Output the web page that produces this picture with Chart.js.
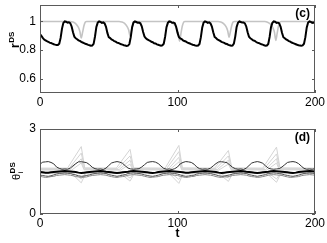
<!doctype html>
<html lang="en">
<head>
<meta charset="utf-8">
<title>r DS / theta DS</title>
<script src="https://cdn.jsdelivr.net/npm/chart.js@4.4.0/dist/chart.umd.min.js"></script>
<style>
  body { margin:0; background:#fff; }
  #wrap { position:relative; width:327px; height:243px; }
  canvas { position:absolute; left:0; }
  #topc { top:0; }
  #botc { top:120px; }
</style>
</head>
<body>
<div id="wrap">
  <canvas id="topc" width="327" height="120"></canvas>
  <canvas id="botc" width="327" height="123"></canvas>
</div>
<script>
// ---- data ----
const tTicks = [0, 100, 200];
const rTicks = [0.6, 0.8, 1];
const thetaTicks = [0, 3];

// panel (c): r^DS sampled every 1 time unit, t = 0..200
const rBlack = [
  0.912,0.9,0.885,0.874,0.868,0.862,0.858,0.852,0.849,0.845,0.841,0.838,0.836,0.835,0.845,0.885,0.95,
  0.99,1.0,0.998,0.992,0.994,0.988,0.965,0.925,0.893,0.882,0.876,0.868,0.864,0.857,0.853,0.849,0.844,0.841,0.836,0.834,0.83,0.832,0.843,0.895,0.962,
  0.992,1.0,0.997,0.99,0.993,0.986,0.962,0.92,0.89,0.884,0.874,0.87,0.862,0.859,0.852,0.85,0.845,0.84,0.838,0.834,0.832,0.829,0.831,0.842,0.89,0.96,
  0.993,1.0,0.996,0.991,0.992,0.987,0.966,0.926,0.894,0.883,0.875,0.869,0.865,0.858,0.855,0.848,0.846,0.84,0.837,0.833,0.831,0.833,0.844,0.893,0.96,
  0.99,1.0,0.998,0.991,0.993,0.988,0.963,0.922,0.891,0.881,0.877,0.868,0.863,0.86,0.853,0.849,0.846,0.841,0.837,0.835,0.831,0.83,0.832,0.843,0.89,0.958,
  0.992,1.0,0.997,0.99,0.994,0.986,0.964,0.924,0.892,0.884,0.874,0.87,0.864,0.857,0.854,0.85,0.844,0.842,0.836,0.834,0.83,0.832,0.845,0.894,0.962,
  0.991,1.0,0.996,0.992,0.993,0.987,0.965,0.925,0.893,0.882,0.876,0.868,0.865,0.858,0.852,0.85,0.845,0.84,0.838,0.833,0.831,0.832,0.843,0.892,0.96,
  0.99,1.0,0.998,0.99,0.992,0.986,0.963,0.921,0.89,0.883,0.875,0.869,0.863,0.859,0.853,0.849,0.845,0.841,0.837,0.834,0.832,0.83,0.833,0.844,0.89,0.958,
  0.992,1.0,0.997,0.99,0.993,0.99
];
const tFine = rBlack.map((v, i) => i);

// panel (c): grey curve, key points
const grayT = [0,22,24,26,28,29,30,31,32,33,34,
  57.5,59.5,61.5,63.5,64.5,65.5,66.5,67.5,68.5,69.5,
  93.5,95.5,97.5,99.5,100.5,101.5,102.5,103.5,104.5,105.5,
  129.5,131.5,133.5,135.5,136.5,137.5,138.5,139.5,140.5,141.5,
  163.5,165.5,167.5,169.5,170.5,171.5,172.5,173.5,174.5,175.5,200];
const grayR = [1,1,0.996,0.984,0.958,0.93,0.885,0.925,0.972,0.996,1,
  1,0.996,0.986,0.962,0.94,0.9,0.935,0.976,0.997,1,
  1,0.995,0.98,0.95,0.92,0.862,0.915,0.968,0.995,1,
  1,0.996,0.985,0.96,0.935,0.89,0.93,0.974,0.997,1,
  1,0.995,0.982,0.953,0.925,0.868,0.918,0.97,0.996,1,1];

// panel (d): theta_i^DS sampled every 2 time units, t = 0..200
const thetaArch = [
  1.76,1.83,1.84,1.85,1.82,1.77,1.66,1.61,1.58,1.59,
  1.58,1.62,1.70,1.78,1.84,1.845,1.83,1.81,1.74,1.65,
  1.60,1.58,1.59,1.57,1.62,1.71,1.80,1.83,1.85,1.83,
  1.79,1.70,1.62,1.59,1.58,1.59,1.60,1.66,1.74,1.82,
  1.84,1.85,1.83,1.78,1.69,1.61,1.58,1.59,1.57,1.60,
  1.66,1.77,1.82,1.85,1.84,1.82,1.76,1.66,1.60,1.58,
  1.59,1.58,1.62,1.70,1.78,1.84,1.845,1.83,1.81,1.73,
  1.65,1.60,1.58,1.59,1.57,1.62,1.71,1.80,1.83,1.85,
  1.83,1.79,1.70,1.62,1.59,1.58,1.59,1.60,1.66,1.74,
  1.82,1.84,1.85,1.83,1.78,1.69,1.61,1.58,1.59,1.58,
  1.60
];
const thetaMean = [
  1.48,1.47,1.46,1.46,1.47,1.48,1.49,1.50,1.51,1.52,1.51,
  1.50,1.49,1.48,1.46,1.45,1.46,1.47,1.48,1.49,1.50,
  1.51,1.52,1.51,1.49,1.48,1.47,1.46,1.45,1.46,1.47,
  1.48,1.49,1.51,1.52,1.51,1.50,1.49,1.48,1.47,1.46,
  1.45,1.46,1.48,1.49,1.50,1.51,1.52,1.51,1.50,1.49,
  1.48,1.47,1.46,1.46,1.47,1.48,1.49,1.50,1.51,1.52,
  1.51,1.50,1.49,1.48,1.46,1.45,1.46,1.47,1.48,1.49,
  1.50,1.51,1.52,1.51,1.49,1.48,1.47,1.46,1.45,1.46,
  1.47,1.48,1.49,1.51,1.52,1.51,1.50,1.49,1.48,1.47,
  1.46,1.45,1.46,1.48,1.49,1.50,1.51,1.52,1.51,1.50
];
const thetaDark1 = [
  1.37,1.36,1.34,1.33,1.35,1.38,1.41,1.43,1.44,1.45,
  1.44,1.43,1.40,1.38,1.35,1.33,1.34,1.36,1.38,1.41,
  1.43,1.44,1.45,1.44,1.43,1.39,1.37,1.35,1.33,1.35,
  1.37,1.39,1.43,1.44,1.45,1.44,1.43,1.41,1.38,1.36,
  1.34,1.33,1.35,1.37,1.40,1.43,1.44,1.45,1.44,1.43,
  1.41,1.38,1.35,1.33,1.34,1.36,1.37,1.41,1.43,1.44,
  1.45,1.44,1.43,1.40,1.38,1.35,1.33,1.34,1.36,1.38,
  1.41,1.43,1.44,1.45,1.44,1.43,1.39,1.37,1.35,1.33,
  1.35,1.37,1.39,1.43,1.44,1.45,1.44,1.43,1.41,1.38,
  1.36,1.34,1.33,1.35,1.37,1.40,1.43,1.44,1.45,1.44,
  1.43
];
const thetaDark2 = [
  1.33,1.31,1.29,1.30,1.32,1.33,1.36,1.37,1.38,1.39,
  1.38,1.37,1.35,1.32,1.31,1.29,1.30,1.31,1.34,1.36,
  1.37,1.38,1.39,1.38,1.37,1.34,1.32,1.30,1.29,1.31,
  1.32,1.34,1.37,1.38,1.39,1.38,1.37,1.36,1.33,1.31,
  1.29,1.30,1.31,1.32,1.35,1.37,1.38,1.39,1.38,1.37,
  1.36,1.33,1.31,1.29,1.30,1.32,1.33,1.36,1.37,1.38,
  1.39,1.38,1.37,1.35,1.32,1.30,1.29,1.31,1.31,1.33,
  1.36,1.37,1.38,1.39,1.38,1.37,1.34,1.32,1.31,1.29,
  1.30,1.32,1.34,1.37,1.38,1.39,1.38,1.37,1.36,1.33,
  1.31,1.29,1.30,1.31,1.32,1.35,1.37,1.38,1.39,1.38,
  1.37
];
const tCoarse = thetaArch.map((v, i) => i * 2);

// panel (d): light grey oscillators with spikes, key points
const fan1T = [0,20,30,32.5,55.5,65.5,68,91,101,103.5,127,137,139.5,162,172,174.5,200];
const fan1Y = [1.62,1.62,2.38,1.63,1.62,2.28,1.63,1.62,2.42,1.63,1.62,2.24,1.63,1.62,2.36,1.63,1.62];
const fan2T = [0,21,30,32.5,56.5,65.5,68,92,101,103.5,128,137,139.5,163,172,174.5,200];
const fan2Y = [1.6,1.6,2.15,1.6,1.6,2.05,1.6,1.6,2.2,1.6,1.6,2.05,1.6,1.6,2.12,1.6,1.6];
const fan3T = [0,22,30,32,57.5,65.5,67.5,93,101,103,129,137,139,164,172,174,200];
const fan3Y = [1.57,1.57,1.95,1.58,1.57,1.9,1.58,1.57,2.0,1.58,1.57,1.9,1.58,1.57,1.95,1.58,1.57];
const fan4T = [0,23,30,32,58.5,65.5,67.5,94,101,103,130,137,139,165,172,174,200];
const fan4Y = [1.55,1.55,1.8,1.56,1.55,1.76,1.56,1.55,1.84,1.56,1.55,1.76,1.56,1.55,1.8,1.56,1.55];
const fan5T = [0,23,30,33,58.5,65.5,68.5,94,101,104,130,137,140,165,172,175,200];
const fan5Y = [1.43,1.43,1.1,1.42,1.43,1.16,1.42,1.43,1.08,1.42,1.43,1.15,1.42,1.43,1.12,1.42,1.43];
const fan6T = [0,24,30,33,59.5,65.5,68.5,95,101,104,131,137,140,166,172,175,200];
const fan6Y = [1.45,1.45,1.24,1.44,1.45,1.27,1.44,1.45,1.22,1.44,1.45,1.27,1.44,1.45,1.24,1.44,1.45];

// ---- helpers ----
const FONT = '"Liberation Sans", Arial, sans-serif';

function pts(xs, ys) {
  return xs.map((x, i) => ({ x: x, y: ys[i] }));
}

function fixTicks(values) {
  return function (scale) {
    scale.ticks = values.map(v => ({ value: v }));
  };
}

// MATLAB-ish box, inward ticks, panel tag and y label with super/subscripts
const frameTicks = {
  id: 'frameTicks',
  afterDatasetsDraw(chart, args, opts) {
    const ctx = chart.ctx;
    const a = chart.chartArea;
    const x = chart.scales.x, y = chart.scales.y;
    ctx.save();
    ctx.strokeStyle = '#5a5a5a';
    ctx.lineWidth = 1;
    ctx.strokeRect(a.left + 0.5, a.top + 0.5, a.right - a.left - 1, a.bottom - a.top - 1);
    ctx.beginPath();
    x.ticks.forEach(tk => {
      const px = Math.round(x.getPixelForValue(tk.value)) + 0.5;
      ctx.moveTo(px, a.bottom); ctx.lineTo(px, a.bottom - 3);
      ctx.moveTo(px, a.top); ctx.lineTo(px, a.top + 3);
    });
    y.ticks.forEach(tk => {
      const py = Math.round(y.getPixelForValue(tk.value)) + 0.5;
      ctx.moveTo(a.left, py); ctx.lineTo(a.left + 3, py);
      ctx.moveTo(a.right, py); ctx.lineTo(a.right - 3, py);
    });
    ctx.stroke();

    ctx.fillStyle = '#000';
    ctx.font = 'bold 12px ' + FONT;
    ctx.textAlign = 'right';
    ctx.textBaseline = 'top';
    ctx.fillText(opts.tag, a.right - 5, a.top + 3);
    ctx.restore();
  },
  afterDraw(chart, args, opts) {
    const ctx = chart.ctx;
    const lab = opts.ylab;
    ctx.save();
    ctx.translate(lab.x, lab.y);
    ctx.rotate(-Math.PI / 2);
    ctx.fillStyle = '#000';
    ctx.textAlign = 'left';
    ctx.textBaseline = 'alphabetic';
    ctx.font = lab.mainFont + ' ' + FONT;
    ctx.fillText(lab.main, 0, 0);
    const w = ctx.measureText(lab.main).width;
    ctx.font = 'bold 8px ' + FONT;
    ctx.fillText(lab.sup, w + 0.5, -5);
    if (lab.sub) {
      ctx.font = '8px ' + FONT;
      ctx.fillText(lab.sub, w + 0.5, 3);
    }
    ctx.restore();
  }
};

function baseOptions(yMin, yMax, yTicks, xHeight, padTop, tag, ylab) {
  return {
    responsive: false,
    animation: false,
    devicePixelRatio: 1,
    events: [],
    elements: { point: { radius: 0 }, line: { tension: 0 } },
    layout: { padding: { left: 0, right: 12, top: padTop, bottom: 0 } },
    plugins: {
      legend: { display: false },
      tooltip: { enabled: false },
      frameTicks: { tag: tag, ylab: ylab }
    },
    scales: {
      x: {
        type: 'linear', min: 0, max: 200,
        afterBuildTicks: fixTicks(tTicks),
        afterFit: s => { s.height = xHeight; s.paddingLeft = 0; s.paddingRight = 0; },
        grid: { display: false, drawTicks: false },
        border: { display: false },
        ticks: { padding: 2, color: '#000', maxRotation: 0, font: { family: FONT, size: 12 } }
      },
      y: {
        type: 'linear', min: yMin, max: yMax,
        afterBuildTicks: fixTicks(yTicks),
        afterFit: s => { s.width = 40; s.paddingTop = 0; s.paddingBottom = 0; },
        grid: { display: false, drawTicks: false },
        border: { display: false },
        ticks: { padding: 4, color: '#000', font: { family: FONT, size: 12 }, callback: v => String(v) }
      }
    }
  };
}

// ---- panel (c) ----
new Chart(document.getElementById('topc'), {
  type: 'line',
  data: {
    datasets: [
      { data: pts(tFine, rBlack), borderColor: '#000', borderWidth: 2, order: 0 },
      { data: pts(grayT, grayR), borderColor: '#c4c4c4', borderWidth: 1.6, cubicInterpolationMode: 'monotone', order: 1 }
    ]
  },
  options: baseOptions(0.5, 1.115, rTicks, 27, 5, '(c)',
    { x: 18.5, y: 48, main: 'r', mainFont: 'bold 12px', sup: 'DS' }),
  plugins: [frameTicks]
});

// ---- panel (d) ----
const fanColor = '#d4d4d4';
const optD = baseOptions(0, 3, thetaTicks, 29, 9, '(d)',
  { x: 20, y: 60, main: 'θ', mainFont: '11px', sup: 'DS', sub: 'i' });
optD.scales.x.title = {
  display: true, text: 't', color: '#000',
  font: { family: FONT, size: 12, weight: 'bold' },
  padding: { top: 0, bottom: 2 }
};
new Chart(document.getElementById('botc'), {
  type: 'line',
  data: {
    datasets: [
      { data: pts(tCoarse, thetaMean), borderColor: '#000', borderWidth: 2, order: 0 },
      { data: pts(tCoarse, thetaArch), borderColor: '#333', borderWidth: 1, order: 1 },
      { data: pts(tCoarse, thetaDark1), borderColor: '#555', borderWidth: 1, order: 2 },
      { data: pts(tCoarse, thetaDark2), borderColor: '#888', borderWidth: 1, order: 2 },
      { data: pts(fan1T, fan1Y), borderColor: fanColor, borderWidth: 1, order: 3 },
      { data: pts(fan2T, fan2Y), borderColor: fanColor, borderWidth: 1, order: 3 },
      { data: pts(fan3T, fan3Y), borderColor: fanColor, borderWidth: 1, order: 3 },
      { data: pts(fan4T, fan4Y), borderColor: fanColor, borderWidth: 1, order: 3 },
      { data: pts(fan5T, fan5Y), borderColor: fanColor, borderWidth: 1, order: 3 },
      { data: pts(fan6T, fan6Y), borderColor: fanColor, borderWidth: 1, order: 3 }
    ]
  },
  options: optD,
  plugins: [frameTicks]
});
</script>
</body>
</html>
